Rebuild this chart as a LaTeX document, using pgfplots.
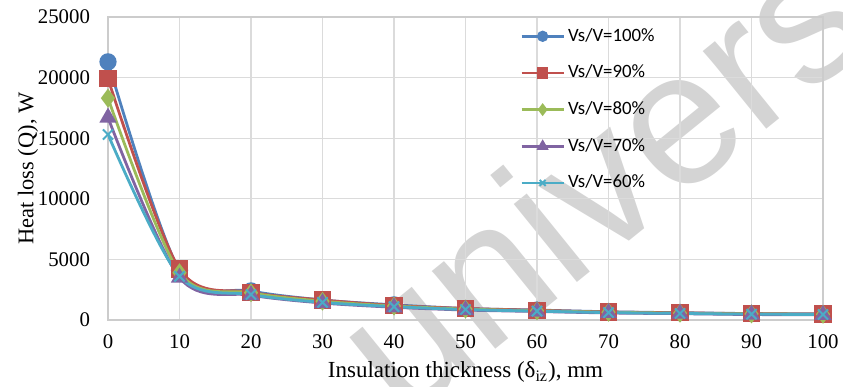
\documentclass[border=0pt]{standalone}
\usepackage{pgfplots}
\pgfplotsset{compat=1.18}
\usepackage{fontspec}
\setmainfont{Liberation Serif}
\newfontfamily\legfont{Carlito}
\newfontfamily\wmfont{Liberation Sans}
\definecolor{cA}{HTML}{4F81BD}
\definecolor{cB}{HTML}{C0504D}
\definecolor{cC}{HTML}{9BBB59}
\definecolor{cD}{HTML}{8064A2}
\definecolor{cE}{HTML}{4BACC6}
\begin{document}
\begin{tikzpicture}
\node[anchor=base west, rotate=39, text=black!17, font=\wmfont\fontsize{95}{95}\selectfont, inner sep=0pt] at (147.5pt,-52pt) {university};
\begin{axis}[name=ax,
  scale only axis, width=357.5pt, height=151.5pt,
  xmin=0, xmax=100, ymin=0, ymax=25000,
  xtick={0,10,...,100}, ytick={0,5000,...,25000},
  grid=major, major grid style={draw=black!14, line width=0.6pt},
  axis line style={draw=black!20, line width=0.8pt},
  major tick length=0pt,
  scaled y ticks=false,
  /pgf/number format/assume math mode=true,
  /pgf/number format/1000 sep={},
  ticklabel style={font=\fontsize{10.4}{12}\selectfont},
  yticklabel style={xshift=-5.5pt},
  xticklabel style={yshift=-4pt},
  xlabel={Insulation thickness (δ\textsubscript{iz}), mm},
  ylabel={Heat loss (Q), W},
  xlabel style={font=\fontsize{11.5}{13}\selectfont, at={(axis description cs:0.5,0)}, anchor=center, yshift=-26pt},
  ylabel style={font=\fontsize{11.2}{13}\selectfont, at={(axis description cs:0,0.5)}, anchor=center, yshift=40pt},
  legend style={at={(rel axis cs:0.576,0.974)}, anchor=north west, draw=none, fill=none,
    font=\legfont\fontsize{9.4}{11}\selectfont, row sep=7.3pt, inner sep=0pt,
    nodes={inner sep=1.5pt}},
  legend cell align=left,
  legend image code/.code={\draw[mark repeat=2,mark phase=2,mark size=2.1pt] plot coordinates {(0pt,0pt) (10.5pt,0pt) (21pt,0pt)};},
  every axis plot/.append style={line width=1.4pt, smooth, tension=0.5, mark size=3.6pt},
]
\addplot[color=cA, mark=*, mark options={solid, fill=cA}] coordinates {
(0,21300) (10,4100) (20,2400) (30,1650) (40,1250) (50,950) (60,820) (70,680) (80,600) (90,530) (100,500)};
\addlegendentry{Vs/V=100\%}
\addplot[color=cB, mark=square*, mark options={solid, fill=cB}] coordinates {
(0,19900) (10,4200) (20,2300) (30,1650) (40,1200) (50,950) (60,800) (70,660) (80,590) (90,520) (100,490)};
\addlegendentry{Vs/V=90\%}
\addplot[color=cC, mark=diamond*, mark options={solid, fill=cC}] coordinates {
(0,18300) (10,3900) (20,2250) (30,1550) (40,1150) (50,900) (60,760) (70,640) (80,560) (90,500) (100,470)};
\addlegendentry{Vs/V=80\%}
\addplot[color=cD, mark=triangle*, mark options={solid, fill=cD}] coordinates {
(0,16700) (10,3500) (20,2050) (30,1400) (40,1050) (50,820) (60,700) (70,580) (80,520) (90,450) (100,430)};
\addlegendentry{Vs/V=70\%}
\addplot[color=cE, mark=x, mark options={solid, line width=1pt}] coordinates {
(0,15300) (10,3600) (20,2100) (30,1450) (40,1100) (50,860) (60,730) (70,610) (80,540) (90,480) (100,450)};
\addlegendentry{Vs/V=60\%}
\end{axis}
\pgfresetboundingbox
\path ([xshift=-54pt,yshift=-33.5pt]ax.south west) rectangle ([xshift=10pt,yshift=8.5pt]ax.north east);
\end{tikzpicture}
\end{document}
